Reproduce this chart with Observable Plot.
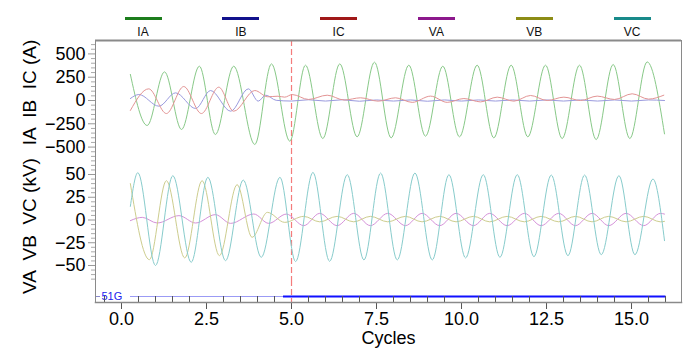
<!DOCTYPE html>
<html><head><meta charset="utf-8">
<script src="https://cdn.jsdelivr.net/npm/d3@7"></script>
<script src="https://cdn.jsdelivr.net/npm/@observablehq/plot@0.6"></script>
<style>
body{margin:0;background:#fff;font-family:"Liberation Sans",Arial,sans-serif;}
#chart{position:relative;width:685px;height:352px;overflow:hidden;background:#fff;}
#chart > .panel{position:absolute;left:0;}
.leg{position:absolute;top:0;width:60px;text-align:center;font-size:12px;color:#111;}
.leg .sw{width:37px;height:3px;margin:17px auto 0 auto;}
.leg .lb{margin-top:6px;line-height:13px;}
</style></head><body><div id="chart"></div>
<script>
// ---- data ----
const seriesNames = ["IA", "IB", "IC", "VA", "VB", "VC"];
const legendColors = ["#1c7d1c", "#12128c", "#a01818", "#8c188c", "#8c8c16", "#188a8a"];
const traceColors  = ["#88c988", "#9a9ade", "#e39494", "#d591d9", "#cdcd8e", "#88cccc"];

const IA_cycles = [0.26, 0.755, 1.265, 1.765, 2.29, 2.76, 3.30, 3.92, 4.41, 4.95, 5.41, 5.92, 6.42, 6.93, 7.44, 7.93, 8.45, 8.94, 9.45, 9.94, 10.46, 10.95, 11.46, 11.95, 12.47, 12.96, 13.47, 13.96, 14.46, 14.95, 15.46, 15.97];
const IA_amps   = [280, -268, 307, -311, 368, -365, 368, -472, 393, -437, 379, -408, 393, -390, 411, -401, 379, -383, 368, -390, 379, -401, 379, -390, 379, -408, 379, -419, 386, -408, 414, -358];

const IB_cycles = [0.26, 0.51, 1.10, 1.59, 2.18, 2.62, 3.21, 3.73, 4.02, 4.24, 4.55, 5.0, 5.5, 6.0, 6.5, 7.0, 7.5, 8.0, 8.5, 9.0, 9.5, 10.0, 10.5, 11.0, 11.5, 12.0, 12.5, 13.0, 13.5, 14.0, 14.5, 15.0, 15.5, 15.97];
const IB_amps   = [21, 64, -61, 82, -86, 107, -115, 125, -7, 57, 2, -6, 8, -6, 8, -8, 6, -6, 6, -8, 6, -6, 6, -6, 6, -6, 6, -6, 6, -6, 6, -6, 6, 0];

const IC_cycles = [0.26, 0.80, 1.32, 1.83, 2.35, 2.86, 3.30, 3.92, 4.30, 4.60, 4.80, 5.02, 5.50, 6.05, 6.55, 7.03, 7.55, 8.06, 8.55, 9.09, 9.58, 10.07, 10.56, 11.05, 11.54, 12.03, 12.52, 13.01, 13.50, 13.99, 14.50, 15.02, 15.50, 15.95];
const IC_amps   = [-107, 125, -140, 150, -140, 143, -115, 107, 40, 46, 36, 64, 11, 57, 5, 29, -7, 29, -20, 47, -20, 21, -15, 36, -7, 54, 0, 36, 0, 47, 11, 72, 15, 57];

const VA_cycles = [0.26, 0.61, 1.05, 1.69, 2.18, 2.76, 3.21, 3.89, 4.33, 4.85, 5.36, 5.83, 6.34, 6.83, 7.32, 7.83, 8.35, 8.84, 9.36, 9.84, 10.35, 10.83, 11.34, 11.85, 12.34, 12.86, 13.35, 13.84, 14.33, 14.84, 15.36, 15.85, 15.97];
const VA_kv     = [-0.7, 2.9, -3.3, 4.8, -3.3, 5.9, -3.7, 6.6, -3.7, 6.5, -6.2, 7.3, -6.2, 7.3, -6.2, 7.3, -6.2, 7.3, -6.2, 7.3, -6.2, 7.3, -6.2, 7.3, -6.2, 7.3, -6.2, 7.3, -6.2, 7.3, -6.2, 7.3, 6.5];

const VB_cycles = [0.26, 0.82, 1.32, 1.86, 2.37, 2.88, 3.40, 3.84, 4.29, 4.80, 5.36, 5.83, 6.34, 6.83, 7.32, 7.83, 8.35, 8.84, 9.36, 9.84, 10.35, 10.83, 11.34, 11.85, 12.34, 12.86, 13.35, 13.84, 14.33, 14.84, 15.36, 15.85, 15.97];
const VB_kv     = [40, -43.6, 43.2, -41.7, 43.2, -39.2, 38.8, -19, 8.4, -2.6, 4, -2, 4, -2, 4, -2, 4, -2, 4, -2, 4, -2, 4, -2, 4, -2, 4, -2, 4, -2, 4, -2, -1.5];

const VC_cycles = [0.26, 0.48, 1.00, 1.51, 2.05, 2.54, 3.06, 3.58, 4.11, 4.66, 5.12, 5.63, 6.12, 6.64, 7.13, 7.62, 8.11, 8.63, 9.14, 9.63, 10.12, 10.64, 11.13, 11.64, 12.13, 12.64, 13.13, 13.62, 14.11, 14.63, 15.10, 15.63, 15.97];
const VC_kv     = [15, 52, -50, 48.7, -46.5, 46.9, -44.7, 43.9, -41, 46.9, -45.7, 52.3, -45.4, 49.8, -43.9, 51.6, -43.9, 51.6, -43.9, 49.8, -41.7, 49.8, -41, 49.8, -40.3, 49.4, -39.2, 49.4, -38.1, 48.7, -38.1, 45, -22.7];

const digitalName = "51G";
const dig51G_from  = [0.25, 4.75];
const dig51G_to    = [4.75, 16.0];
const dig51G_state = [0, 1];

const faultCycle = 5.0;
const currentTicks = [-500, -250, 0, 250, 500];
const voltageTicks = [-50, -25, 0, 25, 50];
const cycleTicks = [0, 2.5, 5, 7.5, 10, 12.5, 15];
const currentLabel = "IA  IB  IC (A)";
const voltageLabel = "VA  VB  VC (kV)";
const xLabel = "Cycles";

// ---- layout ----
const W = 685, ML = 95, MR = 4;
const xDomain = [-0.765, 16.47];
const FONT = "'Liberation Sans', Arial, Helvetica, sans-serif";
const frameColor = "#8a8a8a";
const dashColor = "#f47c7c";

const rows = (c, v) => c.map((t, i) => ({t, v: v[i]}));
const trace = (c, v, color) => Plot.line(rows(c, v), {x: "t", y: "v", stroke: color, strokeWidth: 1, curve: "monotone-x"});
const minor = (lo, hi, step, skip) => d3.range(lo, hi + step / 2, step).filter(d => !skip.includes(d));
const xMinor = minor(-0.5, 16, 0.5, cycleTicks);

const chart = document.getElementById("chart");

// legend
seriesNames.forEach((name, i) => {
  const el = document.createElement("div");
  el.className = "leg";
  el.style.left = (143 + i * 97.8 - 30) + "px";
  el.innerHTML = `<div class="sw" style="background:${legendColors[i]}"></div><div class="lb">${name}</div>`;
  chart.appendChild(el);
});

function place(svg, top) {
  svg.classList.add("panel");
  svg.style.top = top + "px";
  chart.appendChild(svg);
}

const baseStyle = {fontFamily: FONT, fontSize: "18px", background: "transparent", overflow: "visible", color: "#000"};
const dashRule = () => Plot.ruleX([faultCycle], {stroke: dashColor, strokeWidth: 1.2, strokeDasharray: "6,3"});

// currents panel
const p1 = Plot.plot({
  width: W, height: 120, marginLeft: ML, marginRight: MR, marginTop: 0, marginBottom: 0,
  style: baseStyle,
  x: {domain: xDomain, axis: null},
  y: {domain: [-644, 644], axis: null},
  marks: [
    Plot.axisY({ticks: minor(-600, 600, 50, currentTicks), tickSize: 4, tickFormat: () => "", stroke: "#aaa", label: null}),
    Plot.axisY({ticks: currentTicks, tickSize: 7, tickPadding: 3, stroke: "#999", fill: "#000", fontSize: 18, label: null}),
    dashRule(),
    trace(IA_cycles, IA_amps, traceColors[0]),
    trace(IB_cycles, IB_amps, traceColors[1]),
    trace(IC_cycles, IC_amps, traceColors[2]),
    Plot.ruleY([644], {stroke: frameColor, strokeWidth: 2}),
    Plot.ruleX([xDomain[0]], {stroke: frameColor}),
    Plot.ruleX([xDomain[1]], {stroke: frameColor}),
    Plot.text([currentLabel], {frameAnchor: "left", textAnchor: "middle", rotate: -90, dx: -66, dy: -8, fontSize: 19, fill: "#000"})
  ]
});
place(p1, 40);

// voltages panel
const p2 = Plot.plot({
  width: W, height: 121, marginLeft: ML, marginRight: MR, marginTop: 0, marginBottom: 0,
  style: baseStyle,
  x: {domain: xDomain, axis: null},
  y: {domain: [-66.5, 66.5], axis: null},
  marks: [
    Plot.axisY({ticks: minor(-65, 65, 5, voltageTicks), tickSize: 4, tickFormat: () => "", stroke: "#aaa", label: null}),
    Plot.axisY({ticks: voltageTicks, tickSize: 7, tickPadding: 3, stroke: "#999", fill: "#000", fontSize: 18, label: null}),
    dashRule(),
    trace(VA_cycles, VA_kv, traceColors[3]),
    trace(VB_cycles, VB_kv, traceColors[4]),
    trace(VC_cycles, VC_kv, traceColors[5]),
    Plot.ruleX([xDomain[0]], {stroke: frameColor}),
    Plot.ruleX([xDomain[1]], {stroke: frameColor}),
    Plot.text([voltageLabel], {frameAnchor: "left", textAnchor: "middle", rotate: -90, dx: -66, dy: 6, fontSize: 19, fill: "#000"})
  ]
});
place(p2, 159);

// digital channel + x axis
const dig = dig51G_from.map((f, i) => ({from: f, to: dig51G_to[i], state: dig51G_state[i], ch: digitalName}));
const p3 = Plot.plot({
  width: W, height: 72, marginLeft: ML, marginRight: MR, marginTop: 0, marginBottom: 50,
  style: baseStyle,
  x: {domain: xDomain, axis: null},
  y: {type: "point", domain: [digitalName], align: 0.73, axis: null},
  marks: [
    dashRule(),
    Plot.axisY({tickSize: -5, tickPadding: -1, textAnchor: "start", stroke: "#8888cc", fill: "#2222ee", fontSize: 11, label: null}),
    Plot.link(dig.filter(d => !d.state), {x1: "from", x2: "to", y1: "ch", y2: "ch", stroke: "#9b9bf5", strokeWidth: 1}),
    Plot.link(dig.filter(d => d.state), {x1: "from", x2: "to", y1: "ch", y2: "ch", stroke: "#1010ff", strokeWidth: 2}),
    Plot.axisX({ticks: xMinor, tickSize: -6, tickFormat: () => "", stroke: "#555", label: null}),
    Plot.axisX({ticks: cycleTicks, tickSize: 7, tickPadding: 3, stroke: "#555", fill: "#000", fontSize: 18, tickFormat: d3.format(".1f"), label: null}),
    Plot.frame({anchor: "bottom", stroke: frameColor, strokeWidth: 1.5}),
    Plot.ruleX([xDomain[0]], {stroke: frameColor}),
    Plot.ruleX([xDomain[1]], {stroke: frameColor}),
    Plot.text([xLabel], {frameAnchor: "bottom", dy: 41, fontSize: 18, fill: "#000"})
  ]
});
place(p3, 280);
</script></body></html>
